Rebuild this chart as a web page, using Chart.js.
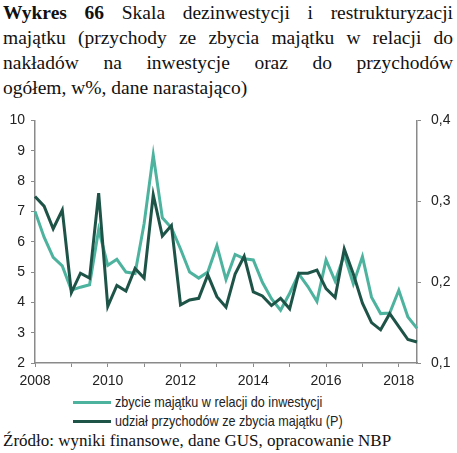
<!DOCTYPE html>
<html>
<head>
<meta charset="utf-8">
<script src="https://cdn.jsdelivr.net/npm/chart.js@4/dist/chart.umd.min.js"></script>
<style>
  body { margin: 0; background: #fff; width: 457px; height: 453px; overflow: hidden; }
  .title { position: absolute; left: 3px; top: 0; width: 450px; font-family: 'Liberation Serif', serif; font-size: 19.5px; line-height: 25px; color: #111; }
  .title div { white-space: nowrap; text-align: justify; text-align-last: justify; }
  .title div.last { text-align-last: left; }
  #wrap { position: absolute; left: 0; top: 102px; width: 457px; height: 286px; }
  .legend { position: absolute; left: 73px; top: 392px; font-family: 'Liberation Sans', sans-serif; font-size: 15px; line-height: 19px; color: #222; }
  .legend .txt { display: inline-block; transform: scaleX(0.84); transform-origin: left center; white-space: nowrap; }
  .legend span.sw { display: inline-block; width: 38px; height: 3px; vertical-align: middle; margin-right: 4px; position: relative; top: -1px; }
  .source { position: absolute; left: 3px; top: 431px; font-family: 'Liberation Serif', serif; font-size: 17px; color: #111; white-space: nowrap; }
</style>
</head>
<body>
<div class="title">
  <div><b>Wykres 66</b> Skala dezinwestycji i restrukturyzacji</div>
  <div>majątku (przychody ze zbycia majątku w relacji do</div>
  <div>nakładów na inwestycje oraz do przychodów</div>
  <div class="last">ogółem, w%, dane narastająco)</div>
</div>
<div id="wrap"><canvas id="chart" width="457" height="286"></canvas></div>
<div class="legend" id="legend"></div>
<div class="source">Źródło: wyniki finansowe, dane GUS, opracowanie NBP</div>
<script>
// quarters 2008 Q1 .. 2018 Q3
const quarters = [
  '2008 Q1', '2008 Q2', '2008 Q3', '2008 Q4',
  '2009 Q1', '2009 Q2', '2009 Q3', '2009 Q4',
  '2010 Q1', '2010 Q2', '2010 Q3', '2010 Q4',
  '2011 Q1', '2011 Q2', '2011 Q3', '2011 Q4',
  '2012 Q1', '2012 Q2', '2012 Q3', '2012 Q4',
  '2013 Q1', '2013 Q2', '2013 Q3', '2013 Q4',
  '2014 Q1', '2014 Q2', '2014 Q3', '2014 Q4',
  '2015 Q1', '2015 Q2', '2015 Q3', '2015 Q4',
  '2016 Q1', '2016 Q2', '2016 Q3', '2016 Q4',
  '2017 Q1', '2017 Q2', '2017 Q3', '2017 Q4',
  '2018 Q1', '2018 Q2', '2018 Q3'
];

const yearLabels = ['2008', '2010', '2012', '2014', '2016', '2018'];

const seriesNames = [
  'zbycie majątku w relacji do inwestycji',
  'udział przychodów ze zbycia majątku (P)'
];

// left axis, %
const disposalToInvestment = [
  7.0, 6.15, 5.48, 5.2, 4.4, 4.5, 4.58, 6.4,
  5.22, 5.42, 5.0, 4.95, 6.6, 8.86, 6.79, 6.46,
  5.76, 5.0, 4.8, 5.0, 5.87, 4.75, 5.58, 5.44,
  5.4, 4.66, 4.12, 3.74, 4.3, 4.94, 4.52, 4.03,
  5.4, 4.7, 5.57, 4.61, 5.51, 4.17, 3.63, 3.65,
  4.4, 3.52, 3.14
];

// right axis (P), %
const disposalShareOfRevenue = [
  0.306, 0.294, 0.266, 0.289, 0.187, 0.211, 0.205, 0.310,
  0.170, 0.196, 0.189, 0.217, 0.205, 0.308, 0.257, 0.270,
  0.172, 0.178, 0.180, 0.209, 0.182, 0.169, 0.210, 0.232,
  0.188, 0.183, 0.171, 0.180, 0.167, 0.211, 0.211, 0.215,
  0.192, 0.181, 0.241, 0.210, 0.174, 0.150, 0.141, 0.161,
  0.145, 0.129, 0.126
];

const colors = ['#4DB39E', '#1E5348'];
const axisColor = '#8a8a8a';
const tickFont = { family: "'Liberation Sans', sans-serif", size: 14 };

const isYearStart = i => quarters[i] && quarters[i].endsWith('Q1');

new Chart(document.getElementById('chart'), {
  type: 'line',
  data: {
    labels: quarters,
    datasets: [
      {
        label: seriesNames[0],
        data: disposalToInvestment,
        borderColor: colors[0],
        borderWidth: 3,
        pointRadius: 0,
        tension: 0,
        yAxisID: 'y',
        order: 1
      },
      {
        label: seriesNames[1],
        data: disposalShareOfRevenue,
        borderColor: colors[1],
        borderWidth: 3,
        pointRadius: 0,
        tension: 0,
        yAxisID: 'y1',
        order: 0
      }
    ]
  },
  options: {
    responsive: false,
    animation: false,
    layout: { padding: { top: 10, left: 0, right: 0, bottom: 0 } },
    plugins: { legend: { display: false }, tooltip: { enabled: false } },
    scales: {
      x: {
        type: 'category',
        offset: false,
        border: { color: axisColor, width: 1.5 },
        grid: {
          drawOnChartArea: false,
          tickLength: 4,
          tickColor: ctx => isYearStart(ctx.index) ? axisColor : 'rgba(0,0,0,0)'
        },
        ticks: {
          autoSkip: false,
          maxRotation: 0,
          padding: 6,
          color: '#222',
          font: tickFont,
          callback: (val, i) => {
            const year = quarters[i].slice(0, 4);
            return isYearStart(i) && yearLabels.includes(year) ? year : '';
          }
        },
        afterFit: s => { s.height = 25; }
      },
      y: {
        position: 'left',
        min: 2,
        max: 10,
        border: { color: axisColor, width: 1.5 },
        grid: { drawOnChartArea: false, tickLength: 4, color: axisColor },
        ticks: { stepSize: 1, padding: 6, color: '#222', font: tickFont },
        afterFit: s => { s.width = 35; }
      },
      y1: {
        position: 'right',
        min: 0.1,
        max: 0.4,
        border: { color: axisColor, width: 1.5 },
        grid: { drawOnChartArea: false, tickLength: 4, color: axisColor },
        ticks: {
          stepSize: 0.1,
          padding: 10,
          color: '#222',
          font: tickFont,
          callback: v => v.toFixed(1).replace('.', ',')
        },
        afterFit: s => { s.width = 40; }
      }
    }
  }
});

document.getElementById('legend').innerHTML = seriesNames
  .map((name, i) => '<div><span class="sw" style="background:' + colors[i] + '"></span><span class="txt">' + name + '</span></div>')
  .join('');
</script>
</body>
</html>
